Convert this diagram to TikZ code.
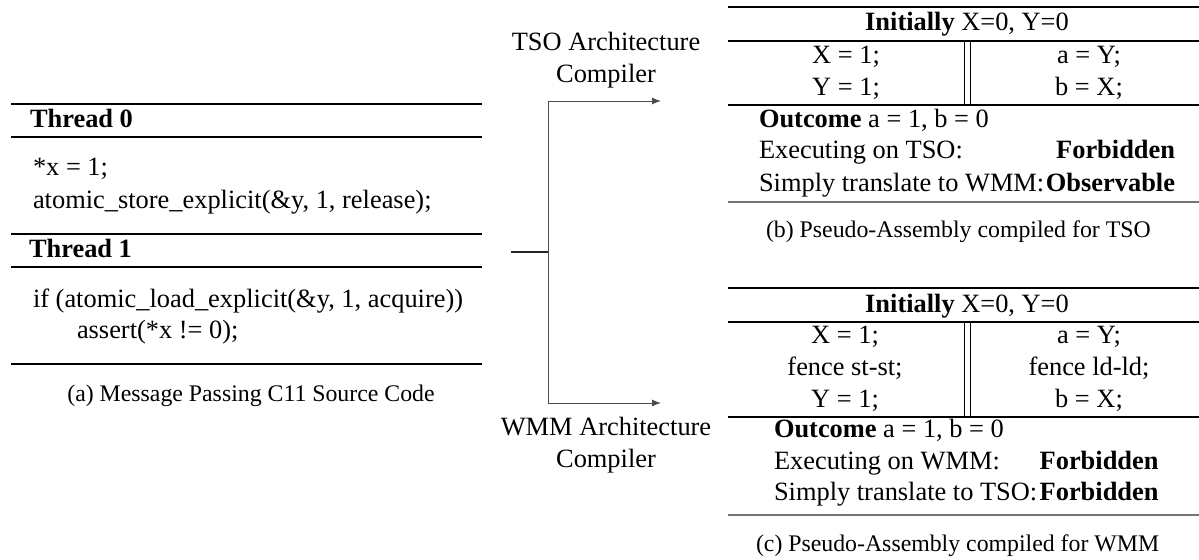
\documentclass[tikz,border=0pt]{standalone}
\usepackage{fontspec}
\setmainfont{Liberation Serif}
\usetikzlibrary{arrows.meta}
\begin{document}
\begin{tikzpicture}[x=0.5pt,y=-0.5pt,
  rule/.style={line width=0.7pt,draw=black},
  grule/.style={line width=1pt,draw=black!55},
  vrule/.style={line width=0.5pt,draw=black},
  txt/.style={inner sep=0pt,outer sep=0pt},
  body/.style={txt,font=\fontsize{13.2}{15.8}\selectfont},
  bbody/.style={txt,font=\bfseries\fontsize{13.2}{15.8}\selectfont},
  lw/.style={anchor=base west},
  le/.style={anchor=base east},
  lc/.style={anchor=base},
  capt/.style={txt,font=\fontsize{11.9}{14}\selectfont},
  conn/.style={line width=0.5pt,draw=black!70},
  arr/.style={conn,-{Latex[length=4.5pt,width=3.5pt]}}]
\useasboundingbox (0,0) rectangle (1199,559);

% ---------- (a) source code ----------
\draw[rule] (11,104) -- (482,104);
\draw[rule] (11,137) -- (482,137);
\draw[rule] (11,234) -- (482,234);
\draw[rule] (11,267) -- (482,267);
\draw[rule] (11,364) -- (482,364);
\node[bbody,lw] (t0) at (30,127) {Thread 0};
\node[body,lw] (s1) at (33,175) {*x = 1;};
\node[body,lw] (s2) at (33,208) {atomic\_store\_explicit(\&y, 1, release);};
\node[bbody,lw] (t1) at (29,257) {Thread 1};
\node[body,lw] (l1) at (33,307) {if (atomic\_load\_explicit(\&y, 1, acquire))};
\node[body,lw] (l2) at (77,338) {assert(*x != 0);};
\node[capt,lc] (capa) at (251,401) {(a) Message Passing C11 Source Code};

% ---------- connectors ----------
\node[body,lc] (tso1) at (606,50) {TSO Architecture};
\node[body,lc] (tso2) at (606,82) {Compiler};
\node[body,lc] (wmm1) at (606,435) {WMM Architecture};
\node[body,lc] (wmm2) at (606,467) {Compiler};
\coordinate (src) at (511,252);
\coordinate (junc) at (548,252);
\coordinate (tsoin) at (661,101);
\coordinate (wmmin) at (661,403);
\draw[line width=0.8pt,draw=black!85] (src) -- (junc);
\draw[arr] (junc) |- (tsoin);
\draw[arr] (junc) |- (wmmin);

% ---------- (b) TSO ----------
\draw[rule] (728,7) -- (1199,7);
\draw[rule] (728,41) -- (1199,41);
\draw[rule] (728,105) -- (1199,105);
\draw[grule] (728,202) -- (1199,202);
\draw[vrule] (964,41) -- (964,105);
\draw[vrule] (970,41) -- (970,105);
\node[body,lc] (bi) at (967,30) {\textbf{Initially} X=0, Y=0};
\node[body,lc] (bx) at (846,63) {X = 1;};
\node[body,lc] (by) at (846,95) {Y = 1;};
\node[body,lc] (ba) at (1089,63) {a = Y;};
\node[body,lc] (bb) at (1089,95) {b = X;};
\node[body,lw] (bo) at (759,127) {\textbf{Outcome} a = 1, b = 0};
\node[body,lw] (be) at (759,158.5) {Executing on TSO:};
\node[bbody,le] (bef) at (1175,158.5) {Forbidden};
\node[body,lw] (bs) at (759,191) {Simply translate to WMM:};
\node[bbody,le] (bso) at (1175,191) {Observable};
\node[capt,lw] (capb) at (766,237) {(b) Pseudo-Assembly compiled for TSO};

% ---------- (c) WMM ----------
\draw[rule] (728,288) -- (1199,288);
\draw[rule] (728,322) -- (1199,322);
\draw[rule] (728,417) -- (1199,417);
\draw[grule] (728,515) -- (1199,515);
\draw[vrule] (964,322) -- (964,417);
\draw[vrule] (970,322) -- (970,417);
\node[body,lc] (ci) at (967,312) {\textbf{Initially} X=0, Y=0};
\node[body,lc] (cx) at (845,343) {X = 1;};
\node[body,lc] (cf) at (845,375) {fence st-st;};
\node[body,lc] (cy) at (845,407) {Y = 1;};
\node[body,lc] (ca) at (1089,343) {a = Y;};
\node[body,lc] (cg) at (1089,375) {fence ld-ld;};
\node[body,lc] (cb) at (1089,407) {b = X;};
\node[body,lw] (co) at (774,437) {\textbf{Outcome} a = 1, b = 0};
\node[body,lw] (ce) at (774,469) {Executing on WMM:};
\node[bbody,le] (cef) at (1158.5,469) {Forbidden};
\node[body,lw] (cs) at (774,500) {Simply translate to TSO:};
\node[bbody,le] (csf) at (1158.5,500) {Forbidden};
\node[capt,lw] (capc) at (756,551) {(c) Pseudo-Assembly compiled for WMM};
\end{tikzpicture}
\end{document}
